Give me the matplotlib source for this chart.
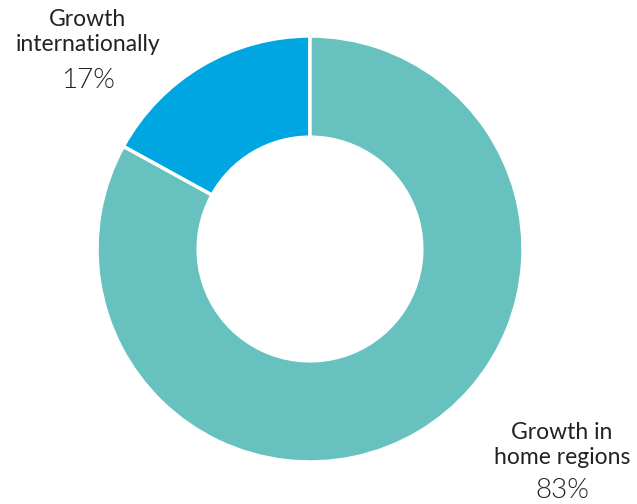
import matplotlib
matplotlib.use("Agg")
import matplotlib.pyplot as plt

labels = ["Growth\ninternationally", "Growth in\nhome regions"]
shares = [17, 83]
colors = ["#00A6E2", "#67C1BE"]

fig = plt.figure(figsize=(6.37, 5.04), dpi=100)
W, H = 637, 504
cx, cy, r = 310, 249, 213
ax = fig.add_axes([(cx - r) / W, (H - cy - r) / H, 2 * r / W, 2 * r / H])
ax.pie(shares, colors=colors, startangle=90, counterclock=True, radius=1.0,
       wedgeprops=dict(width=0.475, edgecolor="white", linewidth=2.5))
ax.set_xlim(-1, 1)
ax.set_ylim(-1, 1)
ax.set_aspect("equal")
ax.axis("off")

txt = "#222222"
font = "Lato"
# label positions in pixel coordinates (x, y from top)
label_pos = [(88, 32), (562, 445)]
pct_pos = [(88, 80), (562, 491)]
for lab, val, (lx, ly), (px, py) in zip(labels, shares, label_pos, pct_pos):
    fig.text(lx / W, 1 - ly / H, lab, ha="center", va="center", fontsize=16.5,
             color=txt, family=font, linespacing=1.25)
    fig.text(px / W, 1 - py / H, f"{val}%", ha="center", va="center", fontsize=20,
             color=txt, family=font, fontweight=300)

fig.savefig("out.png", dpi=100)
